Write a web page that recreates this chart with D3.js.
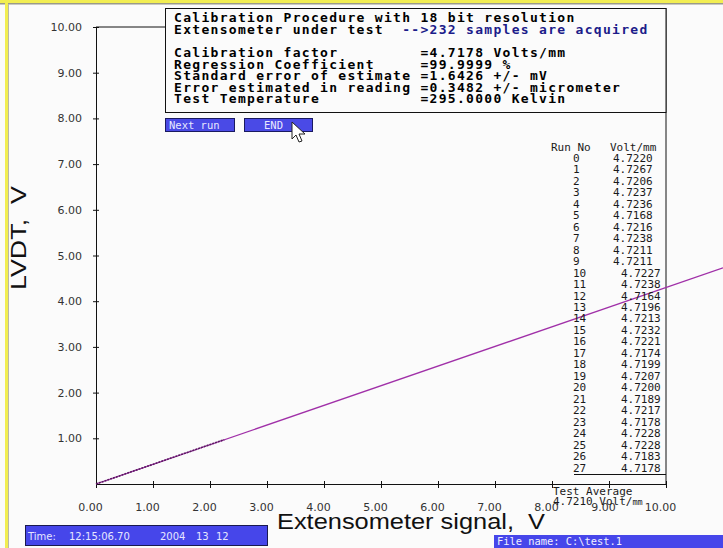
<!DOCTYPE html>
<html lang="en">
<head>
<meta charset="utf-8">
<title>Calibration</title>
<script src="https://d3js.org/d3.v7.min.js"></script>
<style>
  body { margin: 0; background: #fbfbfb; }
  svg { display: block; }
  text { white-space: pre; }
</style>
</head>
<body>
<div id="chart"></div>
<script>
// ---- data ----
const xTicks = [0, 1, 2, 3, 4, 5, 6, 7, 8, 9, 10];
const yTicks = [0, 1, 2, 3, 4, 5, 6, 7, 8, 9, 10];

// regression line (runs past the axis to the window edge) and the sampled part
const fitX = [0, 11.0];
const fitY = [0, 4.73];
const sampleX = [0, 2.25];
const sampleY = [0, 0.97];

const runNo = d3.range(0, 28);
const voltPerMm = [4.7220, 4.7267, 4.7206, 4.7237, 4.7236, 4.7168, 4.7216, 4.7238,
  4.7211, 4.7211, 4.7227, 4.7238, 4.7164, 4.7196, 4.7213, 4.7232, 4.7221, 4.7174,
  4.7199, 4.7207, 4.7200, 4.7189, 4.7217, 4.7178, 4.7228, 4.7228, 4.7183, 4.7178];
const testAverage = "4.7210";

const headerLabels = ["Calibration factor", "Regression Coefficient",
  "Standard error of estimate", "Error estimated in reading", "Test Temperature"];
const headerValues = ["4.7178 Volts/mm", "99.9999 %", "1.6426 +/- mV",
  "0.3482 +/- micrometer", "295.0000 Kelvin"];

const width = 723;
const height = 548;

const svg = d3.select("#chart")
  .append("svg")
  .attr("width", width)
  .attr("height", height);

// window frame
svg.append("rect").attr("x", 0).attr("y", 0).attr("width", width).attr("height", 3).attr("fill", "#f2ee52");
svg.append("rect").attr("x", 0).attr("y", 3).attr("width", width).attr("height", 1.5).attr("fill", "#9a9a8a");
svg.append("rect").attr("x", 5).attr("y", 0).attr("width", 3).attr("height", height).attr("fill", "#f2ee52");
svg.append("rect").attr("x", 8).attr("y", 4).attr("width", 1).attr("height", height).attr("fill", "#b8b8a8");

const x = d3.scaleLinear().domain([0, 10]).range([96, 666]);
const y = d3.scaleLinear().domain([0, 10]).range([484, 27]);

// x axis
const gx = svg.append("g")
  .attr("transform", `translate(0, ${y(0)})`)
  .call(d3.axisBottom(x).tickValues(xTicks).tickFormat(d3.format(".2f")).tickSizeOuter(0));
gx.select(".domain").attr("stroke", "#111");
gx.selectAll(".tick line").attr("y1", -3).attr("y2", 4).attr("stroke", "#111");
gx.selectAll(".tick text")
  .attr("y", 19).attr("dx", -6)
  .attr("font-family", "DejaVu Sans").attr("font-size", 11).attr("fill", "#333");

// y axis
const gy = svg.append("g")
  .attr("transform", `translate(${x(0)}, 0)`)
  .call(d3.axisLeft(y).tickValues(yTicks.slice(1)).tickFormat(d3.format(".2f")).tickSizeOuter(0));
gy.select(".domain").attr("stroke", "#111");
gy.selectAll(".tick line").attr("x1", -3).attr("x2", 3).attr("stroke", "#111");
gy.selectAll(".tick text")
  .attr("x", -14)
  .attr("font-family", "DejaVu Sans").attr("font-size", 11).attr("fill", "#333");

// top frame line of the plot, up to the header box
svg.append("line")
  .attr("x1", x(0)).attr("x2", 165).attr("y1", y(10)).attr("y2", y(10))
  .attr("stroke", "#111");

// right frame line (box edge down to the axis)
svg.append("line")
  .attr("x1", x(10)).attr("x2", x(10)).attr("y1", 8).attr("y2", y(0))
  .attr("stroke", "#111");

// header box
svg.append("rect")
  .attr("x", 165.5).attr("y", 8.5).attr("width", x(10) - 165.5).attr("height", 104)
  .attr("fill", "#fbfbfb").attr("stroke", "#111");

const head = svg.append("g")
  .attr("font-family", "DejaVu Sans Mono")
  .attr("font-weight", "bold")
  .attr("font-size", 13)
  .attr("letter-spacing", 1.3);

head.append("text").attr("x", 174).attr("y", 22)
  .text("Calibration Procedure with 18 bit resolution");
const l2 = head.append("text").attr("x", 174).attr("y", 34);
l2.append("tspan").text("Extensometer under test  ");
l2.append("tspan").attr("fill", "#1c1c8a").text("-->232 samples are acquired");

head.selectAll("text.row")
  .data(headerLabels)
  .enter()
  .append("text")
  .attr("class", "row")
  .attr("x", 174)
  .attr("y", (d, i) => 57 + i * 11.6)
  .text((d, i) => d.padEnd(26, " ") + " =" + headerValues[i]);

// buttons
const buttons = [{ label: "Next run", x0: 165, x1: 234 }, { label: "END", x0: 244, x1: 312 }];
const btn = svg.selectAll("g.btn").data(buttons).enter().append("g").attr("class", "btn");
btn.append("rect")
  .attr("x", d => d.x0 + 0.5).attr("y", 118.5)
  .attr("width", d => d.x1 - d.x0).attr("height", 13)
  .attr("fill", "#4a4ae6").attr("stroke", "#1a1a60");
btn.append("text")
  .attr("x", (d, i) => i === 0 ? d.x0 + 4 : d.x0 + 20)
  .attr("y", 129)
  .attr("font-family", "DejaVu Sans Mono").attr("font-size", 10.5)
  .attr("fill", "#e8e8ff")
  .text(d => d.label);

// mouse pointer
svg.append("path")
  .attr("d", "M292,122 L292,139 L296,135 L299,142 L302,141 L299,134 L305,134 Z")
  .attr("fill", "#fff").attr("stroke", "#222").attr("stroke-width", 1);

// regression line
const line = d3.line().x(d => x(d[0])).y(d => y(d[1]));
svg.append("path")
  .datum(d3.zip(fitX, fitY))
  .attr("d", line)
  .attr("fill", "none")
  .attr("stroke", "#a030a8")
  .attr("stroke-width", 1.3);
svg.append("path")
  .datum(d3.zip(sampleX, sampleY))
  .attr("d", line)
  .attr("fill", "none")
  .attr("stroke", "#5a1a60")
  .attr("stroke-width", 1.6)
  .attr("stroke-dasharray", "2,1");

// run table
const table = svg.append("g")
  .attr("font-family", "DejaVu Sans Mono")
  .attr("font-size", 11)
  .attr("fill", "#1a1a1a");
const rowY = d3.scaleLinear().domain([0, 27]).range([162, 471.5]);

table.append("text").attr("x", 551).attr("y", rowY(-1)).text("Run No");
table.append("text").attr("x", 610).attr("y", rowY(-1)).text("Volt/mm");

table.selectAll("text.run")
  .data(runNo)
  .enter()
  .append("text")
  .attr("class", "run")
  .attr("x", 573)
  .attr("y", d => rowY(d))
  .text(d => d);

table.selectAll("text.volt")
  .data(voltPerMm)
  .enter()
  .append("text")
  .attr("class", "volt")
  .attr("x", (d, i) => i < 10 ? 613 : 621)
  .attr("y", (d, i) => rowY(i))
  .text(d => d.toFixed(4));

svg.append("line")
  .attr("x1", 574).attr("x2", x(10)).attr("y1", 474.5).attr("y2", 474.5)
  .attr("stroke", "#111");

table.append("text").attr("x", 553).attr("y", 495).text("Test Average");
const avg = table.append("text").attr("x", 553).attr("y", 505);
avg.append("tspan").text(testAverage + " Volt/");
avg.append("tspan").attr("font-size", 8.5).text("mm");

// axis titles
svg.append("text")
  .attr("transform", "translate(26, 238) rotate(-90)")
  .attr("text-anchor", "middle")
  .attr("font-family", "Liberation Sans")
  .attr("font-size", 22)
  .attr("fill", "#111")
  .attr("textLength", 104)
  .attr("lengthAdjust", "spacingAndGlyphs")
  .text("LVDT,  V");

svg.append("text")
  .attr("x", 277).attr("y", 529)
  .attr("font-family", "Liberation Sans")
  .attr("font-size", 22)
  .attr("fill", "#111")
  .attr("textLength", 268)
  .attr("lengthAdjust", "spacingAndGlyphs")
  .text("Extensometer signal,  V");

// status bars
svg.append("rect").attr("x", 25.5).attr("y", 525.5).attr("width", 242).attr("height", 20)
  .attr("fill", "#4646ea").attr("stroke", "#1a1a50");
const status = svg.append("g")
  .attr("font-family", "DejaVu Sans")
  .attr("font-size", 10)
  .attr("fill", "#e6e6ff");
const statusParts = [["Time:", 28], ["12:15:06.70", 69], ["2004", 160], ["13", 196], ["12", 216]];
status.selectAll("text")
  .data(statusParts)
  .enter()
  .append("text")
  .attr("x", d => d[1])
  .attr("y", 540)
  .text(d => d[0]);

svg.append("rect").attr("x", 494).attr("y", 535).attr("width", 229).attr("height", 13)
  .attr("fill", "#4646ea");
svg.append("text")
  .attr("x", 497).attr("y", 545)
  .attr("font-family", "DejaVu Sans Mono")
  .attr("font-size", 10.4)
  .attr("fill", "#f0f0ff")
  .text("File name: C:\\test.1");
</script>
</body>
</html>
